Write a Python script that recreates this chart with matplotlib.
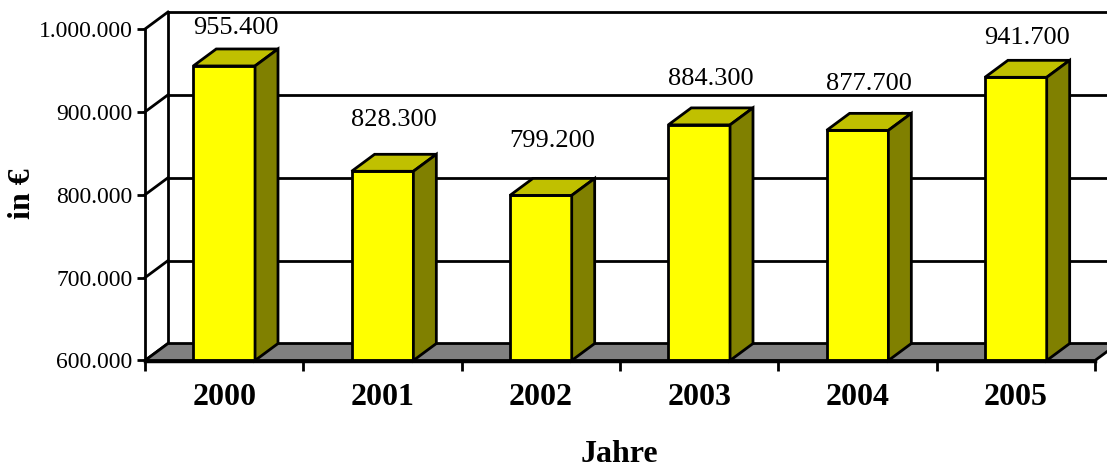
import matplotlib.pyplot as plt
from matplotlib.patches import Polygon

plt.rcParams['font.family'] = ['Liberation Serif', 'DejaVu Serif']

years = ['2000', '2001', '2002', '2003', '2004', '2005']
values = [955400, 828300, 799200, 884300, 877700, 941700]
labels = ['955.400', '828.300', '799.200', '884.300', '877.700', '941.700']
yticks = [600000, 700000, 800000, 900000, 1000000]
yticklabels = ['600.000', '700.000', '800.000', '900.000', '1.000.000']

ymin, ymax = 600000, 1000000
dx, dy = 0.145, 20500      # depth offset of the 3D look, in data units
w = 0.39                   # bar width

fig = plt.figure(figsize=(11.07, 4.67), dpi=100)
ax = fig.add_axes([145/1107, 106.5/467, 950/1107, 331.5/467])
ax.set_xlim(-0.5, 5.5)
ax.set_ylim(ymin, ymax)
ax.set_facecolor('none')
for s in ['top', 'right']:
    ax.spines[s].set_visible(False)
ax.spines['left'].set_linewidth(2)
ax.spines['bottom'].set_linewidth(2.5)
ax.spines['left'].set_zorder(6)
ax.spines['bottom'].set_zorder(6)

x0, x1 = -0.5, 5.5
lw = 2

# back wall + grid
ax.add_patch(Polygon([(x0+dx, ymin+dy), (x1+dx, ymin+dy), (x1+dx, ymax+dy), (x0+dx, ymax+dy)],
                     closed=True, fc='white', ec='none', clip_on=False, zorder=1))
for t in yticks:
    ax.plot([x0+dx, x1+dx], [t+dy, t+dy], color='black', lw=lw, clip_on=False, zorder=2)
    ax.plot([x0, x0+dx], [t, t+dy], color='black', lw=lw, clip_on=False, zorder=2)
ax.plot([x0+dx, x0+dx], [ymin+dy, ymax+dy], color='black', lw=lw, clip_on=False, zorder=2)

# floor
ax.add_patch(Polygon([(x0, ymin), (x1, ymin), (x1+dx, ymin+dy), (x0+dx, ymin+dy)],
                     closed=True, fc='#808080', ec='black', lw=lw, clip_on=False, zorder=3))

# bars
for i, v in enumerate(values):
    l, r = i - w/2, i + w/2
    ax.add_patch(Polygon([(l, ymin), (r, ymin), (r, v), (l, v)],
                         closed=True, fc='#FFFF00', ec='black', lw=lw, zorder=5, clip_on=False))
    ax.add_patch(Polygon([(l, v), (r, v), (r+dx, v+dy), (l+dx, v+dy)],
                         closed=True, fc='#C0C000', ec='black', lw=lw, zorder=5, clip_on=False))
    ax.add_patch(Polygon([(r, ymin), (r+dx, ymin+dy), (r+dx, v+dy), (r, v)],
                         closed=True, fc='#808000', ec='black', lw=lw, zorder=5, clip_on=False))
    ly = 0.88*v + 161000
    ax.text(i + dx/2, ly, labels[i], ha='center', va='center', fontsize=19, zorder=7)

ax.set_yticks(yticks)
ax.set_yticklabels(yticklabels, fontsize=17)
ax.tick_params(axis='y', direction='out', length=6, width=2, pad=3)

ax.set_xticks([i - 0.5 for i in range(len(years) + 1)])
ax.set_xticklabels([''] * (len(years) + 1))
ax.set_xticks(range(len(years)), minor=True)
ax.set_xticklabels(years, minor=True, fontsize=23, fontweight='bold')
ax.tick_params(axis='x', which='major', direction='out', length=7, width=2)
ax.tick_params(axis='x', which='minor', length=0, pad=16)

fig.text(22/1107, 1 - 194/467, 'in €', rotation=90, ha='center', va='center',
         fontsize=23, fontweight='bold')
fig.text(619/1107, 1 - 454/467, 'Jahre', ha='center', va='center',
         fontsize=23, fontweight='bold')

fig.savefig('out.png', dpi=100)
